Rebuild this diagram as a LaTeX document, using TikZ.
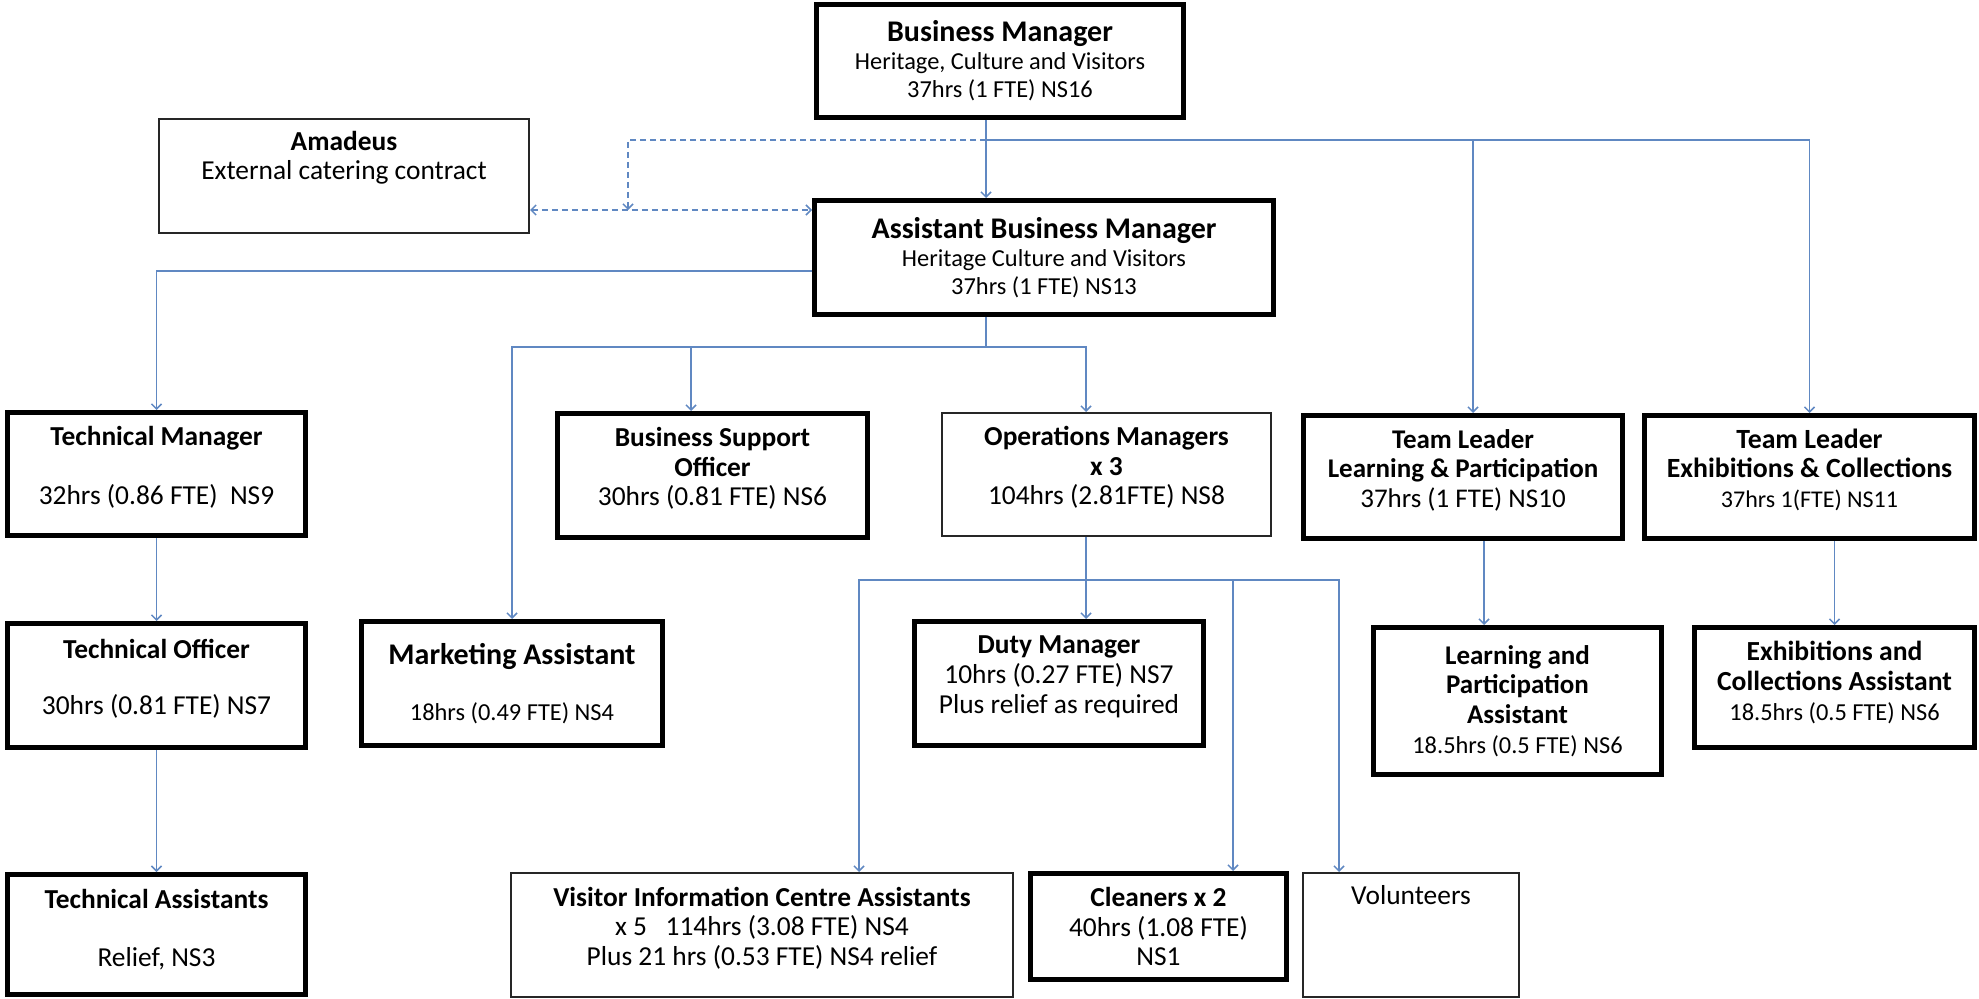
\documentclass[tikz,border=0pt]{standalone}
\usepackage{fontspec}
\setmainfont{Carlito}
\usetikzlibrary{arrows.meta}
\definecolor{lineBlue}{RGB}{96,136,194}
\tikzstyle{thickBox} = [rectangle, draw=black, line width=2.5pt, align=center, inner sep=1pt, font=\fontsize{13.7}{14.8}\selectfont]
\tikzstyle{thinBox} = [rectangle, draw=black!85, line width=1pt, align=center, inner sep=1pt, font=\fontsize{13.7}{14.8}\selectfont]
\tikzstyle{bus} = [draw=lineBlue, line width=0.75pt]
\tikzstyle{link} = [bus, -{Straight Barb[length=2.5pt,width=5pt]}]
\tikzstyle{dashLink} = [bus, dash pattern=on 3pt off 2pt]

\begin{document}
\begin{tikzpicture}[x=0.5pt, y=-0.5pt]
    \useasboundingbox (0,0) rectangle (1979,999);

    \node[thickBox, minimum width=183.5pt, minimum height=56.5pt, font=\fontsize{12.2}{14}\selectfont] (bm) at (1000,61)
        {{\fontsize{15}{15}\selectfont\bfseries Business Manager}\\ Heritage, Culture and Visitors\\ 37hrs (1 FTE) NS16};
    \node[thinBox, minimum width=185pt, minimum height=57pt] (amadeus) at (344,176)
        {\textbf{Amadeus}\\ External catering contract\\[6pt]\mbox{}};
    \node[thickBox, minimum width=229.5pt, minimum height=57pt, font=\fontsize{12.2}{14}\selectfont] (abm) at (1044,257.5)
        {{\fontsize{15}{15}\selectfont\bfseries Assistant Business Manager}\\ Heritage Culture and Visitors\\ 37hrs (1 FTE) NS13};

    % second row
    \node[thickBox, minimum width=149pt, minimum height=61.5pt] (tm) at (156.5,474)
        {\textbf{Technical Manager}\\[14.5pt] 32hrs (0.86 FTE)~~NS9\\[-6pt]\mbox{}};
    \node[thickBox, minimum width=155pt, minimum height=62pt] (bso) at (712.5,475.5)
        {\textbf{Business Support}\\ \textbf{Officer}\\ 30hrs (0.81 FTE) NS6\\[-6pt]\mbox{}};
    \node[thinBox, minimum width=164.5pt, minimum height=61.5pt] (ops) at (1106.5,474.5)
        {\textbf{Operations Managers}\\ \textbf{x 3}\\ 104hrs (2.81FTE) NS8\\[-6pt]\mbox{}};
    \node[thickBox, minimum width=159.5pt, minimum height=61.5pt, font=\fontsize{13.5}{14.8}\selectfont] (tll) at (1463,477)
        {\textbf{Team Leader}\\ \textbf{Learning \& Participation}\\ 37hrs (1 FTE) NS10\\[-6pt]\mbox{}};
    \node[thickBox, minimum width=165pt, minimum height=61.5pt, font=\fontsize{12}{14.8}\selectfont] (tle) at (1809.5,477)
        {{\fontsize{13.9}{14}\selectfont\bfseries Team Leader}\\ {\fontsize{13.9}{14}\selectfont\bfseries Exhibitions \& Collections}\\ 37hrs 1(FTE) NS11\\[-6pt]\mbox{}};

    % third row
    \node[thickBox, minimum width=149pt, minimum height=62pt] (to) at (156.5,685.5)
        {\textbf{Technical Officer}\\[13pt] 30hrs (0.81 FTE) NS7\\[-6pt]\mbox{}};
    \node[thickBox, minimum width=150.5pt, minimum height=62pt, font=\fontsize{12.2}{14.8}\selectfont] (ma) at (512,683.5)
        {{\fontsize{15}{15}\selectfont\bfseries Marketing Assistant}\\[13pt] 18hrs (0.49 FTE) NS4};
    \node[thickBox, minimum width=144.5pt, minimum height=62pt] (dm) at (1059,683.5)
        {\textbf{Duty Manager}\\ 10hrs (0.27 FTE) NS7\\ Plus relief as required\\[-6pt]\mbox{}};
    \node[thickBox, minimum width=144pt, minimum height=73.5pt, font=\fontsize{12.2}{14.8}\selectfont] (lpa) at (1517.5,701)
        {{\fontsize{13.5}{14}\selectfont\bfseries Learning and}\\ {\fontsize{13.5}{14}\selectfont\bfseries Participation}\\ {\fontsize{13.5}{14}\selectfont\bfseries Assistant}\\ 18.5hrs (0.5 FTE) NS6};
    \node[thickBox, minimum width=140pt, minimum height=60pt, font=\fontsize{12.2}{14.8}\selectfont] (eca) at (1834.5,687.5)
        {{\fontsize{13.8}{14}\selectfont\bfseries Exhibitions and}\\ {\fontsize{13.8}{14}\selectfont\bfseries Collections Assistant}\\ 18.5hrs (0.5 FTE) NS6\\[-8pt]\mbox{}};

    % bottom row
    \node[thickBox, minimum width=149pt, minimum height=60pt] (ta) at (156.5,934.5)
        {\textbf{Technical Assistants}\\[14.5pt] Relief, NS3\\[-8pt]\mbox{}};
    \node[thinBox, minimum width=251pt, minimum height=62pt] (vic) at (762,935)
        {\textbf{Visitor Information Centre Assistants}\\ x 5~~~114hrs (3.08 FTE) NS4\\ Plus 21 hrs (0.53 FTE) NS4 relief\\[-6pt]\mbox{}};
    \node[thickBox, minimum width=128pt, minimum height=53pt] (cl) at (1158.5,926.5)
        {\textbf{Cleaners x 2}\\ 40hrs (1.08 FTE)\\ NS1};
    \node[thinBox, minimum width=108pt, minimum height=62pt] (vol) at (1411,935)
        {Volunteers\\[25pt]\mbox{}};

    % junctions
    \coordinate (topBus) at (986,140);
    \coordinate (midBus) at (986,347);
    \coordinate (opsBus) at (1086,580);
    \coordinate (dashDrop) at (628,210);

    \draw[link] (bm.south -| topBus) -- (abm.north -| topBus);
    \draw[link] (topBus) -| ([xshift=5pt]tll.north);
    \draw[link] (topBus) -| (tle.north);
    \draw[dashLink, -{Straight Barb[length=2.5pt,width=5pt]}] (topBus) -| (dashDrop);
    \draw[dashLink, {Straight Barb[length=2.5pt,width=5pt]}-{Straight Barb[length=2.5pt,width=5pt]}] (amadeus.east |- dashDrop) -- (abm.west |- dashDrop);

    \draw[link] ([yshift=-6.75pt]abm.west) -| (tm.north);
    \draw[bus] (abm.south -| midBus) -- (midBus);
    \draw[link] (midBus) -| (ma.north);
    \draw[link] (midBus) -| ([xshift=-10.75pt]bso.north);
    \draw[link] (midBus) -| ([xshift=-10.25pt]ops.north);

    \draw[link] (tm) -- (to);
    \draw[link] (to) -- (ta);

    \draw[link] ([xshift=-10.25pt]ops.south) -- ([xshift=-10.25pt]ops.south |- dm.north);
    \draw[link] (opsBus) -| ([xshift=48.5pt]vic.north);
    \draw[link] (opsBus) -| ([xshift=37.25pt]cl.north);
    \draw[link] (opsBus) -| ([xshift=-36pt]vol.north);

    \draw[link] ([xshift=10.5pt]tll.south) -- ([xshift=10.5pt]tll.south |- lpa.north);
    \draw[link] (tle.south -| eca.north) -- (eca.north);
\end{tikzpicture}
\end{document}
